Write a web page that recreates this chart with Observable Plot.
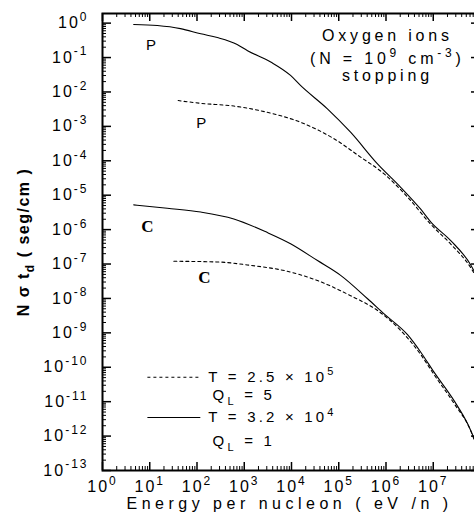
<!DOCTYPE html>
<html><head><meta charset="utf-8">
<script src="https://cdn.jsdelivr.net/npm/d3@7"></script>
<script src="https://cdn.jsdelivr.net/npm/@observablehq/plot@0.6"></script>
<style>
html,body{margin:0;padding:0;background:#fff;overflow:hidden;}
#chart{position:relative;width:474px;height:523px;overflow:hidden;}
#chart svg{position:absolute;left:0;top:0;max-width:none !important;height:523px !important;}
#chart svg.overlay{pointer-events:none;}
#chart svg text{letter-spacing:2px;}
</style></head><body><div id="chart"></div>
<script>
// ---- data (log10 of energy per nucleon, log10 of N sigma t_d) ----
const solidP_logE  = [0.66,1.16,1.65,2.08,2.43,2.85,3.07,3.56,3.98,4.19,4.76,5.25,5.82,6.31,6.73,6.95,7.37,7.80,7.92];
const solidP_logV  = [-0.04,-0.07,-0.16,-0.31,-0.42,-0.62,-0.80,-1.13,-1.52,-1.81,-2.49,-3.17,-4.09,-4.77,-5.40,-5.78,-6.32,-7.04,-7.35];
const dottedP_logE = [1.60,2.08,2.78,3.48,4.19,4.90,5.47,5.96,6.46,6.95,7.37,7.80,7.92];
const dottedP_logV = [-2.25,-2.33,-2.41,-2.59,-2.88,-3.36,-3.90,-4.38,-5.06,-5.85,-6.42,-7.12,-7.40];
const solidC_logE  = [0.66,1.37,2.08,2.78,3.48,3.98,4.55,5.04,5.61,5.96,6.46,6.74,7.02,7.44,7.73,7.92];
const solidC_logV  = [-5.28,-5.38,-5.49,-5.69,-6.08,-6.41,-6.90,-7.33,-8.01,-8.45,-9.06,-9.57,-10.15,-10.97,-11.65,-12.25];
const dottedC_logE = [1.51,2.43,3.14,3.91,4.55,5.25,5.82,6.31,6.74,7.02,7.44,7.80,7.92];
const dottedC_logV = [-6.92,-6.94,-7.04,-7.21,-7.48,-7.92,-8.35,-8.93,-9.64,-10.22,-11.05,-11.87,-12.32];

const xTickExps = [0,1,2,3,4,5,6,7];
const yTickExps = [0,-1,-2,-3,-4,-5,-6,-7,-8,-9,-10,-11,-12,-13];

const legendTexts = ["T = 2.5 × 10^{5}", "Q_{L} = 5", "T = 3.2 × 10^{4}", "Q_{L} = 1"];
const curveLabelTexts = ["P","P","C","C"];
const noteTexts = ["Oxygen ions", "(N = 10^{9} cm^{-3})", "stopping"];
const xLabel = "Energy per nucleon ( eV /n )";
const yLabel = "N σ t_{d} ( seg/cm )";

// ---- build tables ----
const mk = (E, V, s) => E.map((e, i) => ({E: 10 ** e, V: 10 ** V[i], s}));
const series = [
  mk(solidP_logE, solidP_logV, "solid"),
  mk(dottedP_logE, dottedP_logV, "dotted"),
  mk(solidC_logE, solidC_logV, "solid"),
  mk(dottedC_logE, dottedC_logV, "dotted")
];
const xMajor = xTickExps.map(k => 10 ** k);
const yMajor = yTickExps.map(k => 10 ** k);
const xMinor = xTickExps.flatMap(k => [2,3,4,5,6,7,8,9].map(m => m * 10 ** k));
const yMinor = yTickExps.slice(1).flatMap(k => [2,3,4,5,6,7,8,9].map(m => m * 10 ** k));
const supFmt = d => `10^{${Math.round(Math.log10(d))}}`;

// ---- annotation layout (data-space anchors, log10) ----
const notePos = [[6.03,-0.36],[6.03,-1.03],[6.03,-1.52]];
const curveLabelPos = [[1.05,-0.65],[2.11,-2.92],[0.97,-5.91],[2.18,-7.40]];
const legendTextPos = [[2.24,-10.29],[2.33,-10.80],[2.24,-11.46],[2.33,-12.15]];
const legendLinePos = [{e1:0.95,e2:2.07,v:-10.29,dash:"3,3"},{e1:0.95,e2:2.07,v:-11.46,dash:null}];

const notes = noteTexts.map((t, i) => ({t, E: 10 ** notePos[i][0], V: 10 ** notePos[i][1]}));
const curveLabels = curveLabelTexts.map((t, i) => ({t, E: 10 ** curveLabelPos[i][0], V: 10 ** curveLabelPos[i][1]}));
const legendTxt = legendTexts.map((t, i) => ({t, E: 10 ** legendTextPos[i][0], V: 10 ** legendTextPos[i][1]}));
const legendLines = legendLinePos.map(d => ({E1: 10 ** d.e1, E2: 10 ** d.e2, V: 10 ** d.v, dash: d.dash}));

const W = 482, H = 523, ML = 102, MR = 2, MT = 13, MB = 53;
const plotW = W - ML - MR, plotH = H - MT - MB;
const common = {
  width: W, height: H, marginLeft: ML, marginRight: MR, marginTop: MT, marginBottom: MB,
  x: {type: "log", domain: [1, 1e8], axis: null},
  y: {type: "log", domain: [1e-13, 10 ** 0.28], axis: null}
};
const host = document.getElementById("chart");

const chart = Plot.plot({
  ...common,
  style: {fontFamily: "'Liberation Sans', Arial, sans-serif", fontSize: "15px", background: "white", color: "black"},
  marks: [
    ...series.map(s => Plot.line(s, {x: "E", y: "V", stroke: "black", strokeWidth: 1.1,
      strokeDasharray: s[0].s === "dotted" ? "3,3" : "none", curve: "monotone-x"})),
    Plot.axisX(xMajor, {anchor: "bottom", tickSize: 0, tickPadding: 10, tickFormat: supFmt, fontSize: 16, label: null}),
    Plot.axisY(yMajor, {anchor: "left", tickSize: 0, tickPadding: 14, tickFormat: supFmt, fontSize: 16, label: null}),
    Plot.text([xLabel], {text: d => d, frameAnchor: "bottom", lineAnchor: "middle", textAnchor: "middle", dy: 33, dx: -2, fontSize: 16}),
    Plot.text([yLabel], {text: d => d, frameAnchor: "left", textAnchor: "middle", lineAnchor: "middle", dx: -79, rotate: -90, fontSize: 16, fontWeight: "bold"}),
    Plot.text(notes, {x: "E", y: "V", text: "t", fontSize: 16}),
    Plot.text(curveLabels.filter(d => d.t === "P"), {x: "E", y: "V", text: "t", fontSize: 15}),
    Plot.text(curveLabels.filter(d => d.t === "C"), {x: "E", y: "V", text: "t", fontSize: 17, fontWeight: "bold", fontFamily: "'Liberation Serif', serif"}),
    ...legendLines.map(d => Plot.link([d], {x1: "E1", x2: "E2", y1: "V", y2: "V", stroke: "black", strokeWidth: 1.1, strokeDasharray: d.dash || "none"})),
    Plot.text(legendTxt, {x: "E", y: "V", text: "t", textAnchor: "start", fontSize: 15})
  ]
});
host.appendChild(chart);

// frame and inward ticks on left, right and bottom (same scales), layered on top
try {
  const frameChart = Plot.plot({
    ...common,
    style: {fontFamily: "'Liberation Sans', Arial, sans-serif", fontSize: "15px", background: "transparent", color: "black"},
    marks: [
      Plot.tickY(yMajor, {y: d => d, insetRight: plotW - 9, stroke: "black", strokeWidth: 1.5}),
      Plot.tickY(yMinor, {y: d => d, insetRight: plotW - 4, stroke: "black", strokeWidth: 1}),
      Plot.tickY(yMajor, {y: d => d, insetLeft: plotW - 9, stroke: "black", strokeWidth: 1.5}),
      Plot.tickX(xMajor, {x: d => d, insetTop: plotH - 8, stroke: "black", strokeWidth: 1.5}),
      Plot.tickX(xMinor, {x: d => d, insetTop: plotH - 4, stroke: "black", strokeWidth: 1}),
      Plot.frame({stroke: "black", strokeWidth: 2})
    ]
  });
  frameChart.classList.add("overlay");
  host.appendChild(frameChart);
} catch (e) {}

// top-edge inward ticks, isolated in their own layer
try {
  const topTicks = Plot.plot({
    ...common,
    style: {background: "transparent", color: "black"},
    marks: [
      Plot.tickX(xMajor, {x: d => d, insetBottom: plotH - 8, stroke: "black", strokeWidth: 1.5}),
      Plot.tickX(xMinor, {x: d => d, insetBottom: plotH - 4, stroke: "black", strokeWidth: 1})
    ]
  });
  topTicks.classList.add("overlay");
  host.appendChild(topTicks);
} catch (e) {}

// per-text letter spacing (matched by content, before rich formatting)
try {
  const spacing = new Map([
    [xLabel, "4.5px"], [yLabel, "1.5px"],
    ...noteTexts.map(t => [t, "3.8px"]),
    ...legendTexts.map(t => [t, "3.2px"])
  ]);
  chart.querySelectorAll("text").forEach(el => {
    const sp = spacing.get(el.textContent);
    if (sp) el.style.letterSpacing = sp;
  });
} catch (e) {}

// superscript / subscript rendering
function richify(root) {
  const ns = "http://www.w3.org/2000/svg";
  root.querySelectorAll("text").forEach(t => {
    const s = t.textContent;
    if (!/[\^_]\{/.test(s) || t.querySelector("tspan")) return;
    const fs = parseFloat(t.closest("[font-size]") ? t.closest("[font-size]").getAttribute("font-size") : 15) || 15;
    t.textContent = "";
    const re = /([\^_])\{([^}]*)\}/g;
    let last = 0, m, cur = 0;
    const add = (txt, off, small) => {
      const sp = document.createElementNS(ns, "tspan");
      sp.textContent = txt;
      const dy = off - cur;
      if (dy) sp.setAttribute("dy", dy.toFixed(1));
      if (small) sp.setAttribute("font-size", small);
      cur = off;
      t.appendChild(sp);
    };
    while ((m = re.exec(s))) {
      if (m.index > last) add(s.slice(last, m.index), 0);
      add(m[2], m[1] === "^" ? -0.45 * fs : 0.35 * fs, Math.round(fs * 0.72));
      last = re.lastIndex;
    }
    if (last < s.length) add(s.slice(last), 0);
  });
}
try { richify(chart); } catch (e) {}
</script></body></html>
